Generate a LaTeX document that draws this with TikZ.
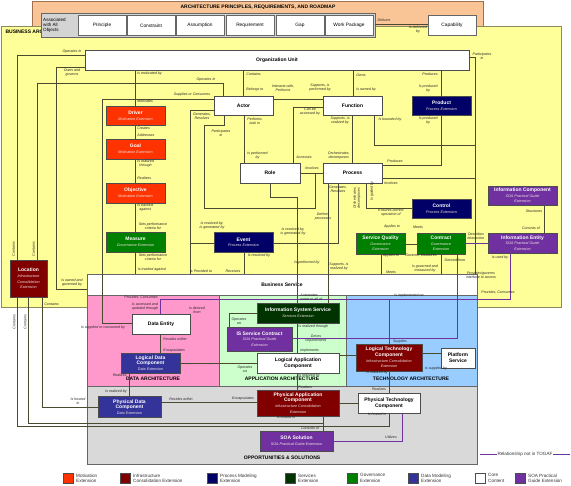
\documentclass[tikz,border=0pt]{standalone}
\usepackage{fontspec}
\setmainfont{Liberation Sans}
\usetikzlibrary{calc}
\pgfdeclarelayer{bg}
\pgfdeclarelayer{lines}
\pgfsetlayers{bg,lines,main}
\definecolor{peach}{HTML}{FAC596}
\definecolor{peachd}{HTML}{A07050}
\definecolor{ylw}{HTML}{FFFF99}
\definecolor{ylwd}{HTML}{8C8C5A}
\definecolor{rowg}{HTML}{D4D4D4}
\definecolor{pinkr}{HTML}{FF99CC}
\definecolor{greenr}{HTML}{CCFFCC}
\definecolor{bluer}{HTML}{99CCFF}
\definecolor{greyr}{HTML}{D9D9D9}
\definecolor{cmot}{HTML}{FF3300}
\definecolor{cinf}{HTML}{800000}
\definecolor{cproc}{HTML}{000066}
\definecolor{cserv}{HTML}{003300}
\definecolor{cgov}{HTML}{008000}
\definecolor{cdata}{HTML}{333399}
\definecolor{csoa}{HTML}{7030A0}
\definecolor{lnc}{HTML}{4A4A30}
\definecolor{subc}{HTML}{F2E4E4}
\newcounter{lc}
\newcommand\lab[3]{\stepcounter{lc}\node[lbl,anchor=#1] (lab\thelc) at (#2) {#3};}
\newcommand\rlab[2]{\stepcounter{lc}\node[lbl,rotate=90] (lab\thelc) at (#1) {#2};}
\newcommand\sx[1]{{\fontsize{3.7}{4.1}\selectfont\mdseries\itshape\color{subc}#1}}
\tikzset{
 lbl/.style={font=\fontsize{3.6}{3.9}\selectfont\itshape, inner sep=0.2pt, align=center, text=black!85},
 conn/.style={draw=lnc, line width=0.5pt},
 pconn/.style={draw=csoa, line width=0.6pt},
 bx/.style={draw=black!70, line width=0.5pt, inner sep=0.3pt, align=center, font=\fontsize{5}{5.6}\selectfont\bfseries},
 core/.style={bx, fill=white, text=black},
 mot/.style={bx, fill=cmot, text=white},
 inf/.style={bx, fill=cinf, text=white},
 prc/.style={bx, fill=cproc, text=white},
 srv/.style={bx, fill=cserv, text=white},
 gov/.style={bx, fill=cgov, text=white},
 dat/.style={bx, fill=cdata, text=white},
 soa/.style={bx, fill=csoa, text=white},
 rowbox/.style={draw=black!60, line width=0.5pt, fill=white, font=\fontsize{4.8}{5.4}\selectfont, minimum width=48pt, minimum height=20pt},
 reg/.style={font=\fontsize{5}{5.5}\selectfont\bfseries},
 lgd/.style={font=\fontsize{4.6}{5.2}\selectfont, align=left, anchor=west, inner sep=0pt, text=black!80},
 lsq/.style={draw=black!70, line width=0.5pt, minimum width=10pt, minimum height=10pt, inner sep=0pt}
}
\begin{document}
\begin{tikzpicture}[x=1pt,y=-1pt]
\useasboundingbox (0,0) rectangle (571,486);
\begin{pgfonlayer}{bg}
\fill[white] (0,0) rectangle (571,486);
\draw[peachd, fill=peach, line width=0.6pt] (32,1) rectangle (483,41);
\node[reg] (ttlarch) at (258,7) {ARCHITECTURE PRINCIPLES, REQUIREMENTS, AND ROADMAP};
\draw[ylwd, fill=ylw, line width=0.6pt] (1,26) rectangle (561,307);
\begin{scope}
\clip (0,26) rectangle (41,40);
\node[reg, anchor=west] (ttlbus) at (2,31.5) {BUSINESS ARCHITECTURE};
\end{scope}
\node[draw=black!60, line width=0.5pt, fill=rowg, minimum width=334pt, minimum height=24pt, inner sep=0pt] (row) at (208,25) {};
\node[font=\fontsize{4.6}{5.1}\selectfont, align=left, anchor=west, inner sep=0pt] (assoc) at (43,25) {Associated\\with All\\Objects};
\draw[black!60, fill=pinkr, line width=0.5pt] (87,295) rectangle (219,386);
\draw[black!60, fill=greenr, line width=0.5pt] (219,295) rectangle (346,386);
\draw[black!60, fill=bluer, line width=0.5pt] (346,295) rectangle (477,386);
\draw[black!60, fill=greyr, line width=0.5pt] (87,386) rectangle (477,464);
\node[reg] (ttlda) at (153,379) {DATA ARCHITECTURE};
\node[reg] (ttlaa) at (282,379) {APPLICATION ARCHITECTURE};
\node[reg] (ttlta) at (411,379) {TECHNOLOGY ARCHITECTURE};
\node[reg] (ttlos) at (282,458) {OPPORTUNITIES \& SOLUTIONS};
\node[draw=black!60, line width=0.5pt, fill=white, minimum width=390pt, minimum height=21pt, font=\fontsize{5}{5.6}\selectfont\bfseries] (bizsvc) at (282,284.5) {Business Service};
\end{pgfonlayer}
% ---- nodes
\node[rowbox] (principle) at (102,25.5) {Principle};
\node[rowbox] (constraint) at (151,25.5) {Constraint};
\node[rowbox] (assumption) at (200,25.5) {Assumption};
\node[rowbox] (requirement) at (250,25.5) {Requirement};
\node[rowbox] (gap) at (300,25.5) {Gap};
\node[rowbox] (workpkg) at (349,25.5) {Work Package};
\node[rowbox] (capability) at (452,25) {Capability};
\node[core, minimum width=384pt, minimum height=20pt] (orgunit) at (277,60) {Organization Unit};
\node[mot, minimum width=59pt, minimum height=19pt] (driver) at (135.5,115.5) {Driver\\\sx{Motivation Extension}};
\node[mot, minimum width=59pt, minimum height=20pt] (goal) at (135.5,149) {Goal\\\sx{Motivation Extension}};
\node[mot, minimum width=59pt, minimum height=20pt] (objective) at (135.5,193) {Objective\\\sx{Motivation Extension}};
\node[gov, minimum width=59pt, minimum height=20pt] (measure) at (135.5,242) {Measure\\\sx{Governance Extension}};
\node[core, minimum width=59pt, minimum height=19pt] (actor) at (243.5,105.5) {Actor};
\node[core, minimum width=59pt, minimum height=19pt] (function) at (352.5,105.5) {Function};
\node[prc, minimum width=59pt, minimum height=19pt] (product) at (441.5,106) {Product\\\sx{Process Extension}};
\node[core, minimum width=60pt, minimum height=20pt] (role) at (270,173) {Role};
\node[core, minimum width=59pt, minimum height=20pt] (process) at (352.5,173) {Process};
\node[prc, minimum width=59pt, minimum height=19pt] (control) at (441.5,208.5) {Control\\\sx{Process Extension}};
\node[soa, minimum width=69pt, minimum height=19pt] (infocomp) at (522.5,195.5) {Information Component\\\sx{SOA Practical Guide}\\\sx{Extension}};
\node[soa, minimum width=69pt, minimum height=20pt] (infoent) at (522.5,243) {Information Entity\\\sx{SOA Practical Guide}\\\sx{Extension}};
\node[prc, minimum width=59pt, minimum height=20pt] (event) at (243.5,242.5) {Event\\\sx{Process Extension}};
\node[gov, minimum width=49pt, minimum height=21pt] (servq) at (380.5,243.5) {Service Quality\\\sx{Governance}\\\sx{Extension}};
\node[gov, minimum width=48pt, minimum height=21pt] (contract) at (441,243.5) {Contract\\\sx{Governance}\\\sx{Extension}};
\node[inf, minimum width=37pt, minimum height=37pt] (location) at (28.5,278.5) {Location\\\sx{Infrastructure}\\\sx{Consolidation}\\\sx{Extension}};
\node[core, minimum width=58pt, minimum height=20pt] (dataent) at (161,324) {Data Entity};
\node[dat, minimum width=59pt, minimum height=20pt] (ldc) at (150.5,363) {Logical Data\\Component\\\sx{Data Extension}};
\node[dat, minimum width=63pt, minimum height=21pt] (pdc) at (129.5,407) {Physical Data\\Component\\\sx{Data Extension}};
\node[srv, minimum width=82pt, minimum height=20pt] (iss) at (298,313) {Information System Service\\\sx{Services Extension}};
\node[soa, minimum width=65pt, minimum height=24pt] (isc) at (259.5,339) {IS Service Contract\\\sx{SOA Practical Guide}\\\sx{Extension}};
\node[core, minimum width=82pt, minimum height=20pt] (lac) at (298,363) {Logical Application\\Component};
\node[inf, minimum width=66pt, minimum height=27pt] (ltc) at (389,357.5) {Logical Technology\\Component\\\sx{Infrastructure Consolidation}\\\sx{Extension}};
\node[core, minimum width=34pt, minimum height=20pt] (platsvc) at (458,358) {Platform\\Service};
\node[inf, minimum width=82pt, minimum height=26pt] (pac) at (298,403) {Physical Application\\Component\\\sx{Infrastructure Consolidation}\\\sx{Extension}};
\node[core, minimum width=62pt, minimum height=20pt] (ptc) at (389,403) {Physical Technology\\Component};
\node[soa, minimum width=73pt, minimum height=20pt] (soasol) at (296.5,441) {SOA Solution\\\sx{SOA Practical Guide Extension}};
% ---- connectors
\begin{pgfonlayer}{lines}
\draw[conn] (row.east |- 0,24) -- (capability.west |- 0,24);
\draw[conn] (orgunit.west |- 0,55) -- (17,55) -- (17,0 |- location.north);
\draw[conn] (223,0 |- actor.north) -- (223,83) -- (37,83) -- (37,0 |- location.north);
\draw[conn] (orgunit.west |- 0,67) -- (56,67) -- (56,289) -- (bizsvc.west |- 0,289);
\draw[conn] (135,0 |- orgunit.south) -- (135,0 |- bizsvc.north);
\draw[conn] (actor.west |- 0,99) -- (102,99) -- (102,323) -- (dataent.west |- 0,323);
\draw[conn] (243,0 |- orgunit.south) -- (243,0 |- actor.north);
\draw[conn] (actor.east |- 0,99) -- (function.west |- 0,99);
\draw[conn] (353,0 |- orgunit.south) -- (353,0 |- function.north);
\draw[conn] (441,0 |- orgunit.south) -- (441,0 |- product.north);
\draw[conn] (441,0 |- product.south) -- (441,165) -- (process.east |- 0,165);
\draw[conn] (293,0 |- role.north) -- (293,107) -- (function.west |- 0,107);
\draw[conn] (244,0 |- actor.south) -- (244,0 |- role.north);
\draw[conn] (actor.west |- 0,110) -- (190,110) -- (190,243) -- (event.west |- 0,243);
\draw[conn] (actor.west |- 0,110) -- (190,110) -- (190,0 |- bizsvc.north);
\draw[conn] (224,0 |- actor.south) -- (224,125) -- (204,125) -- (204,208) -- (315,208) -- (315,173) -- (process.west |- 0,173);
\draw[conn] (role.east |- 0,173) -- (process.west |- 0,173);
\draw[conn] (352,0 |- function.south) -- (352,0 |- process.north);
\draw[conn] (374,0 |- function.south) -- (374,145) -- (475,145) -- (475,0 |- bizsvc.north);
\draw[conn] (orgunit.east |- 0,57) -- (475,57) -- (475,178) -- (process.east |- 0,178);
\draw[conn] (366,0 |- process.south) -- (366,208) -- (control.west |- 0,208);
\draw[conn] (338,0 |- process.south) -- (338,243) -- (event.east |- 0,243);
\draw[conn] (328,0 |- process.south) -- (328,0 |- iss.north);
\draw[conn] (270,0 |- role.south) -- (270,197) -- (297,197) -- (297,0 |- iss.north);
\draw[conn] (244,0 |- event.south) -- (244,0 |- bizsvc.north);
\draw[conn] (servq.east |- 0,244) -- (contract.west |- 0,244);
\draw[conn] (381,0 |- servq.south) -- (381,0 |- bizsvc.north);
\draw[conn] (441,0 |- contract.south) -- (441,0 |- bizsvc.north);
\draw[pconn] (contract.east |- 0,243) -- (infoent.west |- 0,243);
\draw[conn] (544,0 |- infocomp.south) -- (544,0 |- infoent.north);
\draw[pconn] (457,0 |- contract.south) -- (457,338) -- (isc.east |- 0,338);
\draw[pconn] (510,0 |- infoent.south) -- (510,299) -- (160,299) -- (160,0 |- dataent.north);
\coordinate (impl) at (389,299);
\draw[pconn] (impl) -- (389,0 |- ltc.north);
\draw[conn] (42,0 |- location.south) -- (42,407) -- (pdc.west |- 0,407);
\draw[conn] (28,0 |- location.south) -- (28,423) -- (323,423) -- (323,0 |- pac.south);
\draw[conn] (17,0 |- location.south) -- (17,426) -- (389,426) -- (389,0 |- ptc.south);
\draw[conn] (129,0 |- ldc.south) -- (129,0 |- pdc.north);
\draw[conn] (pdc.east |- 0,402) -- (pac.west |- 0,402);
\draw[conn] (160,0 |- dataent.south) -- (160,0 |- ldc.north);
\draw[conn] (ldc.east |- 0,363) -- (lac.west |- 0,363);
\draw[conn] (297,0 |- lac.south) -- (297,0 |- pac.north);
\draw[conn] (323,0 |- pac.south) -- (323,0 |- soasol.north);
\draw[pconn] (soasol.east |- 0,441) -- (402,441) -- (402,0 |- ptc.south);
\draw[conn] (pac.east |- 0,403) -- (ptc.west |- 0,403);
\draw[conn] (389,0 |- ltc.south) -- (389,0 |- ptc.north);
\draw[conn] (229,0 |- isc.north) -- (229,313) -- (iss.west |- 0,313);
\draw[conn] (297,0 |- iss.south) -- (297,0 |- lac.north);
\draw[conn] (lac.east |- 0,355) -- (ltc.west |- 0,355);
\draw[conn] (ltc.east |- 0,353) -- (platsvc.west |- 0,353);
\end{pgfonlayer}
% ---- labels
\lab{center}{384,20}{Delivers}
\lab{center}{418,30}{Is delivered\\by}
\lab{center}{72,52}{Operates in}
\rlab{13.5,249}{Contains}
\lab{center}{206,80}{Operates in}
\rlab{33.5,249}{Contains}
\lab{center}{72,73}{Owns and\\governs}
\lab{center}{72,283}{Is owned and\\governed by}
\lab{west}{137,74}{Is motivated by}
\lab{west}{137,101}{Motivates}
\lab{west}{137,128}{Creates}
\lab{west}{137,135}{Addresses}
\lab{west}{137,164}{Is realized\\through}
\lab{west}{137,178}{Realizes}
\lab{west}{137,208}{Is tracked\\against}
\lab{center}{153,226}{Sets performance\\criteria for}
\lab{center}{153,257}{Sets performance\\criteria for}
\lab{center}{152,270}{Is tracked against}
\lab{center}{192,95}{Supplies or Consumes}
\lab{center}{103,328}{Is supplied or consumed by}
\lab{west}{246,74}{Contains}
\lab{west}{246,90}{Belongs to}
\lab{center}{283,88}{Interacts with,\\Performs}
\lab{center}{320,88}{Supports, is\\performed by}
\lab{west}{356,75}{Owns}
\lab{west}{356,90}{Is owned by}
\lab{east}{438,74}{Produces}
\lab{east}{438,89}{Is produced\\by}
\lab{east}{438,121}{Is produced\\by}
\lab{center}{395,161}{Produces}
\lab{center}{390,120}{Is bounded by}
\lab{center}{310,112}{Can be\\accessed by}
\lab{center}{304,157}{Accesses}
\lab{west}{247,121}{Performs\\task in}
\lab{west}{247,156}{Is performed\\by}
\lab{center}{221,133}{Participates\\in}
\lab{center}{312,168}{Involves}
\lab{east}{350,121}{Supports, is\\realized by}
\lab{east}{350,156}{Orchestrates,\\decomposes}
\lab{center}{482,56}{Participates\\in}
\lab{center}{391,183}{Involves}
\rlab{372,191}{Is guided by}
\rlab{357,198}{Orchestrates,\\decomposes}
\lab{center}{391,213}{Ensures correct\\operation of}
\lab{center}{338,189}{Generates,\\Resolves}
\lab{center}{202,116}{Generates,\\Resolves}
\lab{center}{323,217}{Defines\\processes}
\lab{center}{212,226}{Is resolved by,\\is generated by}
\lab{center}{293,232}{Is resolved by,\\is generated by}
\lab{center}{259,256}{Is resolved by}
\lab{center}{201,271}{Is Provided to}
\lab{center}{233,271}{Receives}
\lab{center}{307,263}{Is performed by}
\lab{center}{339,267}{Supports, is\\realized by}
\lab{center}{392,227}{Applies to}
\lab{center}{418,227}{Meets}
\lab{center}{391,256}{Applies to}
\lab{center}{421,255}{Governs, Measures}
\lab{center}{391,272}{Meets}
\lab{center}{425,269}{Is governed and\\measured by}
\lab{center}{455,260}{Derived from}
\lab{center}{476,236}{Describes\\interaction}
\lab{center}{534,211}{Structures}
\lab{center}{531,228}{Consists of}
\lab{center}{500,258}{Is used by}
\lab{center}{481,275}{Provides/governs\\interface to access}
\lab{center}{498,292}{Provides, Consumes}
\lab{center}{409,296}{Is implemented on}
\lab{center}{141,297}{Provides, Consumes}
\lab{center}{145,307}{Is accessed and\\updated through}
\lab{center}{197,310}{Is derived\\from}
\lab{west}{163,339}{Resides within}
\lab{west}{163,351}{Encapsulates}
\lab{west}{300,295}{Automates}
\lab{west}{300,299.5}{some or all of}
\lab{center}{239,321}{Operates\\on}
\lab{west}{298,327}{Is realized through}
\lab{center}{316,339}{Drives\\requirements}
\lab{west}{300,351}{Implements}
\lab{center}{400,342}{Supplies}
\lab{center}{436,369}{Is supplied by}
\lab{center}{245,369}{Operates\\on}
\lab{east}{127,375}{Realizes}
\lab{east}{127,392}{Is realized by}
\lab{center}{181,399}{Resides within}
\lab{center}{243,399}{Encapsulates}
\lab{west}{44,304}{Contains}
\rlab{14,322}{Contains}
\rlab{25,322}{Contains}
\lab{center}{78,401}{Is hosted\\in}
\lab{center}{286,417}{Is hosted in}
\lab{west}{298,376}{Is realized by}
\lab{west}{298,387}{Realizes}
\lab{center}{377,373}{Is realized by}
\lab{center}{379,389}{Realizes}
\lab{center}{377,414}{Is hosted in}
\lab{center}{310,428}{Consists of}
\lab{center}{391,437}{Utilizes}
% ---- legend
\node[lsq, fill=cmot] (lg1) at (68,478) {};
\node[lgd] (lt1) at (76,478) {Motivation\\Extension};
\node[lsq, fill=cinf] (lg2) at (125,478) {};
\node[lgd] (lt2) at (133,478) {Infrastructure\\Consolidation Extension};
\node[lsq, fill=cproc] (lg3) at (212,478) {};
\node[lgd] (lt3) at (220,478) {Process Modeling\\Extension};
\node[lsq, fill=cserv] (lg4) at (290,478) {};
\node[lgd] (lt4) at (298,478) {Services\\Extension};
\node[lsq, fill=cgov] (lg5) at (352,478) {};
\node[lgd] (lt5) at (360,478) {Governance\\Extension};
\node[lsq, fill=cdata] (lg6) at (413,478) {};
\node[lgd] (lt6) at (421,478) {Data Modeling\\Extension};
\node[lsq, fill=white] (lg7) at (480,478) {};
\node[lgd] (lt7) at (488,478) {Core\\Content};
\node[lsq, fill=csoa] (lg8) at (520,478) {};
\node[lgd] (lt8) at (528,478) {SOA Practical\\Guide Extension};
\coordinate (rl1) at (480,454);
\coordinate (rl2) at (570,454);
\draw[pconn] (rl1) -- (rl2);
\node[font=\fontsize{4.6}{5}\selectfont, fill=white, inner sep=0.5pt, text=black!80] (rltxt) at (525,454) {Relationship not in TOGAF};
\end{tikzpicture}
\end{document}
